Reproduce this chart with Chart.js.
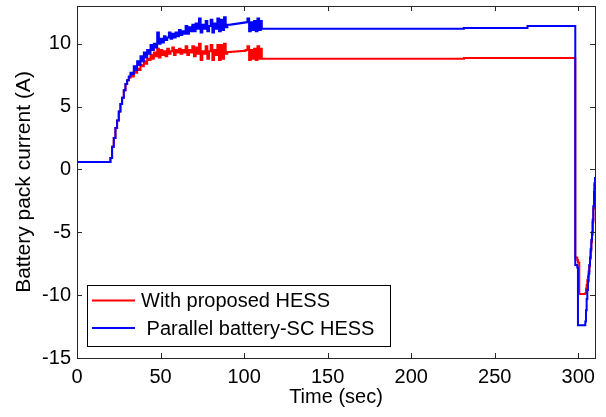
<!DOCTYPE html>
<html>
<head>
<meta charset="utf-8">
<script src="https://cdn.jsdelivr.net/npm/chart.js@4/dist/chart.umd.min.js"></script>
<style>
    html, body { margin: 0; padding: 0; background: #fff; }
    #battery-current-chart { display: block; }
</style>
</head>
<body>
<canvas id="battery-current-chart" width="606" height="417"></canvas>
<script>
const timeSec = [
    0, 19.6,
    20, 21, 22, 23, 24, 25, 26, 27, 28, 29,
    30, 31, 32, 33, 34, 35, 36, 37, 38, 39,
    40, 41, 42, 43, 44, 45, 46, 47, 48, 49,
    50, 51, 52, 53, 54, 55, 56, 57, 58, 59,
    60, 61, 62, 63, 64, 65, 66, 67, 68, 69,
    70, 71, 72, 73, 74, 75, 76, 77, 78, 79,
    80, 81, 82, 83, 84, 85, 86, 87, 88, 89,
    90, 91, 92, 93, 94, 95, 96, 97, 98, 99,
    100, 101, 102, 103, 104, 105, 106, 107, 108, 109,
    110, 110.6, 231.5, 231.6, 269.5, 269.6, 297.6, 298.2, 299.4, 299.8,
    300.6, 304.2, 304.6, 305, 305.4, 305.8, 306.2, 306.6, 307, 307.4,
    307.8, 308.2, 308.6, 309, 309.4, 309.7, 310
];

const proposedHess = [
    0.6, 0.6,
    0.9, 1.8, 2.5, 3.3, 3.9, 4.6, 5.2, 5.7, 6.3, 6.8,
    7.1, 7.3, 7.5, 7.4, 7.8, 7.7, 8.0, 7.9, 8.3, 8.2,
    8.6, 8.4, 8.8, 8.7, 9.1, 8.8, 9.3, 9.0, 9.6, 8.9,
    9.5, 9.1, 9.4, 9.0, 9.6, 9.2, 9.4, 9.7, 9.1, 9.5,
    9.3, 9.6, 9.2, 9.5, 9.3, 9.8, 9.1, 9.5, 9.3, 9.8,
    9.0, 9.7, 9.2, 10.0, 8.7, 9.4, 9.2, 9.8, 8.8, 9.4,
    9.9, 8.7, 9.5, 9.1, 9.9, 8.7, 9.9, 8.8, 10.0, 9.2,
    9.35, 9.35, 9.36, 9.37, 9.38, 9.39, 9.4, 9.41, 9.42, 9.43,
    9.45, 9.5, 9.8, 8.7, 9.5, 8.8, 9.6, 8.7, 9.8, 8.8,
    9.6, 8.8, 8.8, 8.87, 8.87, 8.87, 8.87, -7.0, -7.2, -7.4,
    -9.9, -9.85, -9.5, -9.2, -8.8, -8.5, -8.1, -7.7, -7.1, -6.5,
    -5.8, -5.2, -4.2, -3.1, -2.0, -1.2, -0.6
];

const parallelHess = [
    0.6, 0.6,
    0.9, 1.8, 2.5, 3.3, 3.9, 4.6, 5.2, 5.7, 6.3, 6.8,
    7.1, 7.4, 7.7, 7.6, 8.2, 7.9, 8.6, 8.3, 9.0, 8.6,
    9.3, 8.9, 9.5, 9.2, 9.9, 9.5, 10.0, 9.7, 10.9, 10.0,
    10.4, 10.1, 10.6, 10.3, 10.5, 10.9, 10.4, 10.8, 10.5, 10.9,
    10.6, 11.1, 10.7, 11.0, 10.8, 11.4, 10.8, 11.3, 11.0, 11.5,
    11.0, 11.6, 11.2, 12.0, 10.9, 11.5, 11.2, 11.8, 11.0, 11.4,
    11.9, 10.9, 11.6, 11.2, 12.0, 11.0, 11.9, 11.1, 12.1, 11.3,
    11.5, 11.5, 11.52, 11.54, 11.56, 11.58, 11.6, 11.62, 11.64, 11.66,
    11.68, 11.7, 12.0, 11.0, 11.7, 11.1, 11.8, 11.0, 12.0, 11.1,
    11.8, 11.2, 11.25, 11.25, 11.25, 11.4, 11.4, -7.6, -7.8, -12.4,
    -12.4, -12.1, -11.2, -10.3, -9.6, -8.9, -8.3, -7.6, -7.0, -6.3,
    -5.6, -5.0, -4.0, -2.9, -1.8, -1.1, -0.6
];

const xTicks = [0, 50, 100, 150, 200, 250, 300];
const yTicks = [-15, -10, -5, 0, 5, 10];

const seriesLabels = ['With proposed HESS', ' Parallel battery-SC HESS'];

const FONT = '"Liberation Sans", Arial, sans-serif';

function toPoints(values) {
    return timeSec.map((t, i) => ({ x: t, y: values[i] }));
}

// matlab-style box with inward ticks on all four sides
const axesBox = {
    id: 'axesBox',
    afterDatasetsDraw(chart) {
        const { ctx, chartArea: a, scales: { x, y } } = chart;
        ctx.save();
        ctx.strokeStyle = '#262626';
        ctx.lineWidth = 1;
        ctx.beginPath();
        xTicks.forEach(v => {
            const px = Math.round(x.getPixelForValue(v)) + 0.5;
            ctx.moveTo(px, a.bottom); ctx.lineTo(px, a.bottom - 5);
            ctx.moveTo(px, a.top); ctx.lineTo(px, a.top + 5);
        });
        yTicks.forEach(v => {
            const py = Math.round(y.getPixelForValue(v)) + 0.5;
            ctx.moveTo(a.left, py); ctx.lineTo(a.left + 5, py);
            ctx.moveTo(a.right, py); ctx.lineTo(a.right - 5, py);
        });
        ctx.stroke();
        ctx.strokeRect(Math.round(a.left) + 0.5, Math.round(a.top) + 0.5,
            Math.round(a.right - a.left), Math.round(a.bottom - a.top));
        ctx.restore();
    }
};

const boxLegend = {
    id: 'boxLegend',
    afterDraw(chart) {
        const { ctx } = chart;
        const bx = 87, by = 285, bw = 303, bh = 61;
        ctx.save();
        ctx.fillStyle = '#fff';
        ctx.fillRect(bx, by, bw, bh);
        ctx.strokeStyle = '#000';
        ctx.lineWidth = 1;
        ctx.strokeRect(bx + 0.5, by + 0.5, bw, bh);
        ctx.font = '20px ' + FONT;
        ctx.textBaseline = 'middle';
        ctx.fillStyle = '#000';
        chart.data.datasets.forEach((ds, i) => {
            const ly = i === 0 ? 300.5 : 328;
            ctx.strokeStyle = ds.borderColor;
            ctx.lineWidth = 2;
            ctx.beginPath();
            ctx.moveTo(92, ly); ctx.lineTo(135, ly);
            ctx.stroke();
            ctx.fillText(ds.label, 141, ly + 1);
        });
        ctx.restore();
    }
};

function buildBatteryCurrentChart(canvas) {
    const data = {
        datasets: [
            {
                label: seriesLabels[0],
                data: toPoints(proposedHess),
                borderColor: '#ff0000',
                order: 1
            },
            {
                label: seriesLabels[1],
                data: toPoints(parallelHess),
                borderColor: '#0000ff',
                order: 0
            }
        ]
    };

    const config = {
        type: 'line',
        data: data,
        options: {
            responsive: false,
            animation: false,
            devicePixelRatio: 1,
            elements: {
                point: { radius: 0 },
                line: { borderWidth: 2, tension: 0, fill: false, stepped: 'before' }
            },
            layout: { padding: { left: 0, top: 6, right: 11, bottom: 0 } },
            plugins: {
                legend: { display: false },
                tooltip: { enabled: false }
            },
            scales: {
                x: {
                    type: 'linear',
                    min: 0,
                    max: 310,
                    afterBuildTicks: s => { s.ticks = xTicks.map(v => ({ value: v })); },
                    afterFit: s => {
                        s.height = 59;
                        s.paddingLeft = 0;
                        s.paddingRight = 0;
                    },
                    grid: { display: false, drawTicks: false },
                    border: { display: false },
                    ticks: {
                        padding: 7,
                        color: '#000',
                        maxRotation: 0,
                        autoSkip: false,
                        font: { family: FONT, size: 20 }
                    },
                    title: {
                        display: true,
                        text: 'Time (sec)',
                        color: '#000',
                        font: { family: FONT, size: 20 },
                        padding: { top: 0, bottom: 8 }
                    }
                },
                y: {
                    min: -15,
                    max: 13,
                    afterBuildTicks: s => { s.ticks = yTicks.map(v => ({ value: v })); },
                    afterFit: s => {
                        s.width = 77;
                        s.paddingTop = 0;
                        s.paddingBottom = 0;
                    },
                    grid: { display: false, drawTicks: false },
                    border: { display: false },
                    ticks: {
                        padding: 6,
                        color: '#000',
                        autoSkip: false,
                        font: { family: FONT, size: 20 }
                    },
                    title: {
                        display: true,
                        text: 'Battery pack current (A)',
                        color: '#000',
                        font: { family: FONT, size: 21 },
                        padding: { top: 12, bottom: 0 }
                    }
                }
            }
        },
        plugins: [axesBox, boxLegend]
    };

    new Chart(canvas, config);
}

addEventListener('DOMContentLoaded', () => {
    const canvas = document.getElementById('battery-current-chart');
    if (canvas) {
        buildBatteryCurrentChart(canvas);
    }
});
</script>
</body>
</html>
